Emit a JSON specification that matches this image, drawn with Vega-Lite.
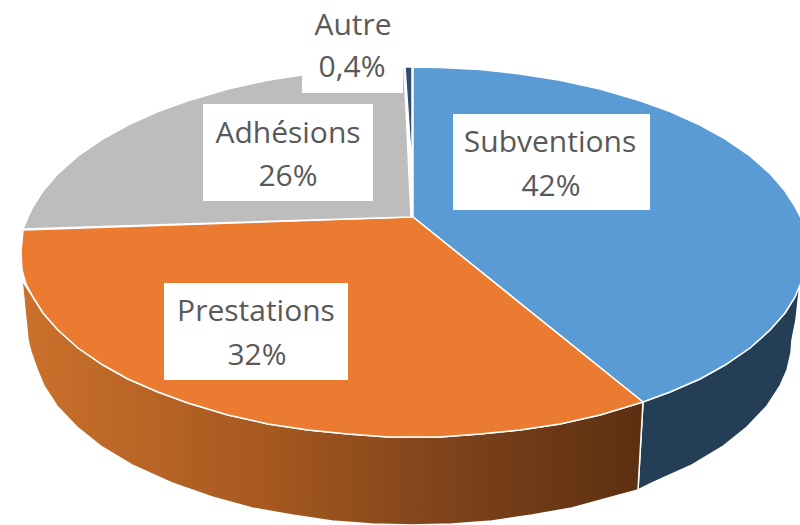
{"$schema":"https://vega.github.io/schema/vega-lite/v6.json","width":800,"height":525,"padding":0,"autosize":{"type":"none"},"background":"white","view":{"stroke":null},
"datasets":{
"sideBlue":[{"x":643,"y":402,"s":1},{"x":670,"y":392,"s":2},{"x":700,"y":379,"s":3},{"x":725,"y":365,"s":4},{"x":750,"y":348,"s":5},{"x":770,"y":330,"s":6},{"x":785,"y":313,"s":7},{"x":795,"y":297,"s":8},{"x":800,"y":283,"s":9},{"x":796,"y":320,"s":10},{"x":792,"y":340,"s":11},{"x":791,"y":353,"s":12},{"x":787,"y":370,"s":13},{"x":780,"y":386,"s":14},{"x":767,"y":406,"s":15},{"x":747,"y":427,"s":16},{"x":722,"y":447,"s":17},{"x":692,"y":465,"s":18},{"x":652,"y":483,"s":19},{"x":638,"y":490,"s":20},{"x":643,"y":402,"s":21}],
"sideOrange":[{"x":22,"y":280,"s":1},{"x":33,"y":297,"s":2},{"x":43,"y":313,"s":3},{"x":58,"y":330,"s":4},{"x":78,"y":348,"s":5},{"x":103,"y":365,"s":6},{"x":128,"y":379,"s":7},{"x":158,"y":392,"s":8},{"x":188,"y":403,"s":9},{"x":228,"y":415,"s":10},{"x":268,"y":424,"s":11},{"x":308,"y":430,"s":12},{"x":348,"y":434,"s":13},{"x":388,"y":437,"s":14},{"x":414,"y":437,"s":15},{"x":440,"y":437,"s":16},{"x":480,"y":434,"s":17},{"x":520,"y":430,"s":18},{"x":560,"y":424,"s":19},{"x":600,"y":415,"s":20},{"x":643,"y":402,"s":21},{"x":638,"y":490,"s":22},{"x":612,"y":497,"s":23},{"x":572,"y":508,"s":24},{"x":532,"y":515,"s":25},{"x":492,"y":521,"s":26},{"x":452,"y":524,"s":27},{"x":412,"y":525,"s":28},{"x":372,"y":524,"s":29},{"x":332,"y":521,"s":30},{"x":292,"y":515,"s":31},{"x":252,"y":508,"s":32},{"x":212,"y":497,"s":33},{"x":172,"y":483,"s":34},{"x":132,"y":465,"s":35},{"x":102,"y":447,"s":36},{"x":77,"y":427,"s":37},{"x":57,"y":406,"s":38},{"x":44,"y":386,"s":39},{"x":37,"y":369,"s":40},{"x":31,"y":352,"s":41},{"x":28,"y":340,"s":42},{"x":25,"y":310,"s":43},{"x":22,"y":280,"s":44}],
"slices":[
{"k":"Subventions","x":413,"y":67,"s":1},{"k":"Subventions","x":440,"y":67.4,"s":2},{"k":"Subventions","x":480,"y":69.6,"s":3},{"k":"Subventions","x":520,"y":73.9,"s":4},{"k":"Subventions","x":560,"y":80.2,"s":5},{"k":"Subventions","x":600,"y":89,"s":6},{"k":"Subventions","x":640,"y":100.7,"s":7},{"k":"Subventions","x":670,"y":111.6,"s":8},{"k":"Subventions","x":700,"y":125.1,"s":9},{"k":"Subventions","x":725,"y":138.9,"s":10},{"k":"Subventions","x":750,"y":156,"s":11},{"k":"Subventions","x":770,"y":173.6,"s":12},{"k":"Subventions","x":785,"y":191,"s":13},{"k":"Subventions","x":795,"y":206.6,"s":14},{"k":"Subventions","x":802,"y":220,"s":15},{"k":"Subventions","x":807,"y":252,"s":16},{"k":"Subventions","x":802,"y":280,"s":17},{"k":"Subventions","x":795,"y":297,"s":18},{"k":"Subventions","x":785,"y":313,"s":19},{"k":"Subventions","x":770,"y":330,"s":20},{"k":"Subventions","x":750,"y":348,"s":21},{"k":"Subventions","x":725,"y":365,"s":22},{"k":"Subventions","x":700,"y":379,"s":23},{"k":"Subventions","x":670,"y":392,"s":24},{"k":"Subventions","x":643,"y":402,"s":25},{"k":"Subventions","x":413,"y":217,"s":26},{"k":"Subventions","x":413,"y":67,"s":27},
{"k":"Prestations","x":643,"y":402,"s":1},{"k":"Prestations","x":600,"y":415,"s":2},{"k":"Prestations","x":560,"y":424,"s":3},{"k":"Prestations","x":520,"y":430,"s":4},{"k":"Prestations","x":480,"y":434,"s":5},{"k":"Prestations","x":440,"y":437,"s":6},{"k":"Prestations","x":414,"y":437,"s":7},{"k":"Prestations","x":388,"y":437,"s":8},{"k":"Prestations","x":348,"y":434,"s":9},{"k":"Prestations","x":308,"y":430,"s":10},{"k":"Prestations","x":268,"y":424,"s":11},{"k":"Prestations","x":228,"y":415,"s":12},{"k":"Prestations","x":188,"y":403,"s":13},{"k":"Prestations","x":158,"y":392,"s":14},{"k":"Prestations","x":128,"y":379,"s":15},{"k":"Prestations","x":103,"y":365,"s":16},{"k":"Prestations","x":78,"y":348,"s":17},{"k":"Prestations","x":58,"y":330,"s":18},{"k":"Prestations","x":43,"y":313,"s":19},{"k":"Prestations","x":33,"y":297,"s":20},{"k":"Prestations","x":26,"y":284,"s":21},{"k":"Prestations","x":22,"y":270,"s":22},{"k":"Prestations","x":21,"y":252,"s":23},{"k":"Prestations","x":23,"y":230,"s":24},{"k":"Prestations","x":411,"y":217,"s":25},{"k":"Prestations","x":413,"y":217,"s":26},{"k":"Prestations","x":643,"y":402,"s":27},
{"k":"Adhésions","x":23,"y":229,"s":1},{"k":"Adhésions","x":28,"y":217,"s":2},{"k":"Adhésions","x":33,"y":206.6,"s":3},{"k":"Adhésions","x":43,"y":191,"s":4},{"k":"Adhésions","x":58,"y":173.6,"s":5},{"k":"Adhésions","x":78,"y":156,"s":6},{"k":"Adhésions","x":103,"y":138.9,"s":7},{"k":"Adhésions","x":128,"y":125.1,"s":8},{"k":"Adhésions","x":158,"y":111.6,"s":9},{"k":"Adhésions","x":188,"y":100.7,"s":10},{"k":"Adhésions","x":228,"y":89,"s":11},{"k":"Adhésions","x":268,"y":80.2,"s":12},{"k":"Adhésions","x":308,"y":73.9,"s":13},{"k":"Adhésions","x":348,"y":69.6,"s":14},{"k":"Adhésions","x":388,"y":67.4,"s":15},{"k":"Adhésions","x":404,"y":67,"s":16},{"k":"Adhésions","x":411,"y":217,"s":17},{"k":"Adhésions","x":23,"y":229,"s":18},
{"k":"Autre","x":405,"y":67,"s":1},{"k":"Autre","x":412,"y":67,"s":2},{"k":"Autre","x":412,"y":170,"s":3},{"k":"Autre","x":405,"y":67,"s":4}],
"boxes":[{"x":453,"x2":650,"y":114,"y2":210},{"x":203,"x2":373,"y":104,"y2":201},{"x":302,"x2":403,"y":0,"y2":93},{"x":164,"x2":348,"y":283,"y2":380}],
"labels":[{"t":"Subventions","x":550,"y":143},{"t":"42%","x":551,"y":187},{"t":"Adhésions","x":288,"y":134},{"t":"26%","x":288,"y":177},{"t":"Autre","x":353,"y":26},{"t":"0,4%","x":352,"y":68},{"t":"Prestations","x":256,"y":312},{"t":"32%","x":257,"y":356}]
},
"encoding":{"x":{"field":"x","type":"quantitative","scale":{"domain":[0,800],"nice":false,"zero":false},"axis":null},"y":{"field":"y","type":"quantitative","scale":{"domain":[525,0],"nice":false,"zero":false},"axis":null}},
"layer":[
{"data":{"name":"sideBlue"},"mark":{"type":"line","filled":true,"fill":"#243F55","stroke":"white","strokeWidth":1.5,"clip":true},"encoding":{"order":{"field":"s"}}},
{"data":{"name":"sideOrange"},"mark":{"type":"line","filled":true,"stroke":"white","strokeWidth":1.5,"fill":{"gradient":"linear","x1":0,"y1":0,"x2":1,"y2":0,"stops":[{"offset":0,"color":"#CB712C"},{"offset":0.4,"color":"#A5581F"},{"offset":0.7,"color":"#7C421A"},{"offset":1,"color":"#5C2F11"}]}},"encoding":{"order":{"field":"s"}}},
{"data":{"name":"slices"},"mark":{"type":"line","filled":true,"stroke":"white","strokeWidth":1.5,"clip":true},"encoding":{"order":{"field":"s"},"fill":{"field":"k","type":"nominal","legend":null,"scale":{"domain":["Subventions","Prestations","Adhésions","Autre"],"range":["#5B9BD5","#EA7B30","#BDBDBD","#2F4B73"]}},"detail":{"field":"k"}}},
{"data":{"name":"boxes"},"mark":{"type":"rect","fill":"white"},"encoding":{"x2":{"field":"x2"},"y2":{"field":"y2"}}},
{"data":{"name":"labels"},"mark":{"type":"text","font":"Open Sans","fontSize":30,"fill":"#595959","align":"center","baseline":"middle"},"encoding":{"text":{"field":"t"}}}
]}
